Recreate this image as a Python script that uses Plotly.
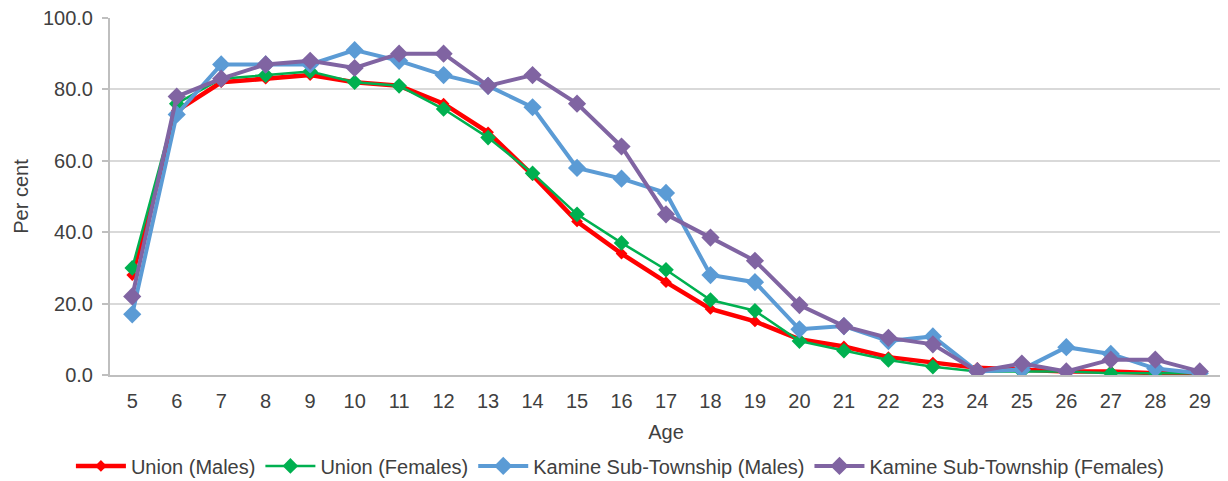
import plotly.graph_objects as go

ages = [str(a) for a in range(5, 30)]

union_males = [28, 74, 82, 83, 84, 82, 81, 76, 68, 56, 43, 34, 26, 18.5, 15, 10, 8, 5, 3.5, 2, 1.5, 1, 1, 0.5, 0.5]
union_females = [30, 76, 83, 84, 85, 82, 81, 74.5, 66.5, 56.5, 45, 37, 29.5, 21, 18, 9.5, 6.8, 4.2, 2.3, 1, 1, 1, 0.5, 0.5, 0.5]
kamine_males = [17, 73, 87, 87, 87, 91, 88, 84, 81, 75, 58, 55, 51, 28, 26, 12.8, 13.7, 9.5, 10.8, 1, 1.5, 7.8, 5.9, 1.8, 0.5]
kamine_females = [22, 78, 83, 87, 88, 86, 90, 90, 81, 84, 76, 64, 45, 38.5, 32, 19.6, 13.7, 10.4, 8.6, 1, 3.2, 1, 4.3, 4.3, 1]

y_ticks = [0, 20, 40, 60, 80, 100]

series = [
    ("Union (Males)", union_males, "#ff0000", 4.5, 9),
    ("Union (Females)", union_females, "#00b050", 2.5, 12),
    ("Kamine Sub-Township (Males)", kamine_males, "#5b9bd5", 4, 14),
    ("Kamine Sub-Township (Females)", kamine_females, "#8064a2", 4, 14),
]

fig = go.Figure()
for name, vals, color, lw, ms in series:
    fig.add_trace(go.Scatter(
        x=ages, y=vals, name=name, mode="lines+markers",
        line=dict(color=color, width=lw),
        marker=dict(symbol="diamond", size=ms, color=color),
    ))

font = "Liberation Sans, Arial, sans-serif"
txt = "#404040"
fig.update_layout(
    width=1228, height=481,
    margin=dict(l=102, r=14, t=10, b=114),
    paper_bgcolor="white", plot_bgcolor="white",
    font=dict(family=font, size=20, color=txt),
    showlegend=True,
    legend=dict(orientation="h", x=0.459, xanchor="center",
                yref="container", y=0.048, yanchor="middle",
                font=dict(size=20, color=txt), itemwidth=50, tracegroupgap=0),
    xaxis=dict(
        type="category", range=[-0.5, 24.5], automargin=False,
        showline=True, linecolor="#bfbfbf", linewidth=2,
        showgrid=False, ticks="", tickfont=dict(size=20, color=txt),
        ticklabelstandoff=7,
        title=dict(text="Age", font=dict(size=20, color=txt), standoff=14),
    ),
    yaxis=dict(
        range=[0, 100], tickvals=y_ticks, tickformat=".1f", automargin=False,
        ticklabeloverflow="allow",
        showline=True, linecolor="#bfbfbf", linewidth=2,
        showgrid=True, gridcolor="#d9d9d9", gridwidth=1.5,
        ticks="outside", ticklen=6, tickcolor="#bfbfbf", tickwidth=1.5,
        ticklabelstandoff=5,
        tickfont=dict(size=20, color=txt),
        title=dict(text="Per cent", font=dict(size=20, color=txt), standoff=9),
        zeroline=False,
    ),
)

fig.write_html("out.html")
